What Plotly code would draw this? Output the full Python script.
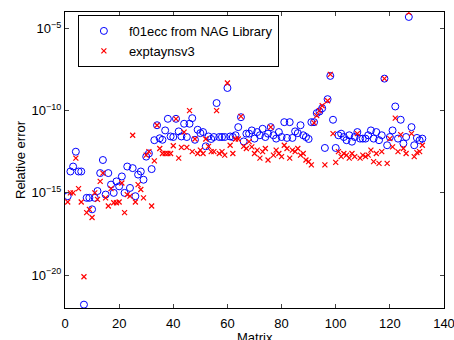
import plotly.graph_objects as go

matrix_index = list(range(1, 133))

nag_error = [
    6.3e-16, 2.0e-14, 4.0e-14, 3.2e-13, 2.0e-14, 2.0e-14, 1.6e-22, 5.0e-16, 5.0e-16, 1.0e-16,
    5.0e-16, 1.3e-15, 1.6e-14, 1.0e-13, 7.9e-16, 1.6e-14, 3.2e-15, 1.0e-15, 5.0e-15, 2.5e-15,
    1.0e-14, 1.0e-15, 4.0e-14, 2.0e-15, 3.2e-14, 6.3e-16, 1.3e-14, 2.0e-14, 6.3e-15, 1.6e-13,
    2.5e-13, 2.8e-14, 1.6e-12, 1.3e-11, 2.1e-12, 1.7e-12, 6.3e-12, 3.2e-11, 2.7e-12, 2.5e-12,
    3.2e-11, 5.5e-12, 2.7e-12, 1.6e-11, 2.5e-12, 1.6e-11, 3.5e-11, 1.7e-12, 6.9e-12, 4.3e-12,
    5.0e-12, 6.8e-13, 2.7e-12, 1.9e-12, 2.5e-12, 2.9e-10, 2.5e-12, 2.5e-12, 2.5e-12, 2.4e-9,
    2.7e-12, 2.5e-12, 3.2e-12, 1.0e-11, 4.0e-11, 1.35e-12, 4.0e-12, 4.0e-12, 6.3e-12, 2.0e-12,
    5.0e-12, 3.2e-12, 7.9e-12, 2.5e-12, 4.0e-12, 1.0e-11, 3.2e-12, 2.0e-12, 5.0e-12, 2.5e-12,
    2.0e-11, 2.2e-12, 2.0e-11, 2.2e-12, 5.5e-12, 4.3e-12, 1.3e-11, 3.2e-12, 2.5e-12, 1.9e-12,
    2.0e-11, 2.0e-11, 7.1e-11, 8.9e-11, 1.4e-10, 5.4e-13, 5.0e-10, 1.3e-8, 2.8e-11, 5.4e-13,
    3.2e-12, 4.0e-12, 2.5e-12, 1.6e-12, 3.2e-12, 1.3e-12, 2.5e-12, 5.0e-12, 2.0e-12, 2.0e-12,
    2.0e-12, 3.2e-12, 6.3e-12, 2.0e-12, 5.0e-12, 1.6e-12, 3.2e-12, 8.9e-9, 7.9e-13, 2.5e-12,
    6.3e-12, 1.8e-10, 2.0e-12, 2.8e-11, 1.0e-12, 2.5e-12, 5.0e-5, 1.0e-11, 7.9e-13, 2.2e-12,
    1.6e-12, 2.0e-12,
]

exptaynsv3_error = [
    2.8e-16, 1.0e-15, 1.0e-15, 1.3e-13, 1.8e-15, 2.8e-16, 7.9e-21, 6.3e-17, 1.0e-16, 3.2e-17,
    1.0e-15, 4.0e-16, 5.0e-15, 1.6e-14, 5.0e-16, 1.6e-16, 1.8e-15, 2.5e-16, 2.5e-16, 2.8e-16,
    4.0e-15, 6.3e-17, 7.9e-16, 6.3e-16, 3.2e-12, 2.8e-16, 3.2e-15, 1.6e-15, 5.0e-16, 2.0e-13,
    3.2e-13, 1.6e-16, 8.9e-14, 1.3e-11, 5.0e-13, 2.5e-13, 2.5e-13, 2.5e-13, 2.5e-13, 7.4e-13,
    3.2e-11, 1.3e-13, 5.8e-13, 5.0e-12, 5.8e-13, 1.0e-10, 3.2e-13, 1.9e-12, 2.5e-13, 4.0e-13,
    2.5e-13, 1.9e-12, 6.8e-13, 3.2e-13, 3.2e-13, 1.0e-10, 2.5e-13, 3.2e-13, 2.0e-13, 4.8e-9,
    7.9e-13, 2.5e-13, 1.9e-12, 1.9e-12, 4.5e-11, 6.8e-13, 5.0e-13, 1.3e-12, 6.3e-13, 2.5e-13,
    4.0e-13, 1.3e-13, 3.2e-13, 5.0e-13, 1.0e-13, 1.0e-11, 2.0e-13, 4.0e-13, 2.5e-13, 1.6e-13,
    7.9e-13, 5.0e-13, 1.3e-13, 4.0e-13, 3.2e-13, 5.0e-13, 2.0e-13, 2.5e-13, 1.0e-13, 7.9e-14,
    5.0e-14, 1.8e-11, 5.0e-11, 1.0e-10, 2.0e-10, 5.0e-14, 4.0e-10, 1.6e-8, 4.0e-12, 7.1e-14,
    3.2e-13, 1.6e-13, 2.5e-13, 2.0e-13, 1.3e-13, 2.5e-13, 1.6e-13, 4.0e-12, 1.3e-13, 2.0e-13,
    1.6e-13, 2.0e-13, 4.0e-13, 7.9e-14, 2.5e-13, 6.3e-14, 3.2e-13, 8.9e-9, 6.3e-14, 2.0e-12,
    6.3e-13, 3.5e-11, 3.2e-13, 3.5e-12, 5.0e-13, 2.5e-13, 9.5e-5, 4.0e-12, 1.6e-13, 2.8e-13,
    3.2e-13, 7.9e-13,
]

x_ticks = [0, 20, 40, 60, 80, 100, 120, 140]
y_ticks = [1e-20, 1e-15, 1e-10, 1e-5]
y_tick_text = ["10<sup>−20</sup>", "10<sup>−15</sup>", "10<sup>−10</sup>", "10<sup>−5</sup>"]

font_family = "Liberation Sans, Arial, Helvetica, sans-serif"

fig = go.Figure()
fig.add_trace(go.Scatter(
    x=matrix_index, y=nag_error, mode="markers", name="f01ecc from NAG Library",
    marker=dict(symbol="circle-open", size=7, color="#0000ff", line=dict(width=1, color="#0000ff")),
))
fig.add_trace(go.Scatter(
    x=matrix_index, y=exptaynsv3_error, mode="markers", name="exptaynsv3",
    marker=dict(symbol="x-thin-open", size=5, color="#ff0000", line=dict(width=1.2, color="#ff0000")),
))

fig.update_layout(
    width=454, height=340,
    margin=dict(l=65, r=10, t=12, b=32, autoexpand=False),
    paper_bgcolor="white", plot_bgcolor="white",
    font=dict(family=font_family, size=12, color="black"),
    showlegend=True,
    legend=dict(
        x=0.034, y=0.99, xanchor="left", yanchor="top",
        bgcolor="white", bordercolor="black", borderwidth=1,
        font=dict(size=13, family=font_family, color="black"),
        tracegroupgap=0, itemsizing="trace", itemwidth=40,
    ),
    annotations=[dict(
        text="Matrix", xref="paper", yref="paper", x=0.5, y=-0.066,
        xanchor="center", yanchor="top", showarrow=False,
        font=dict(size=13, family=font_family, color="black"),
    )],
)
fig.update_xaxes(
    range=[0, 140], tickvals=x_ticks, ticks="inside", ticklen=4, tickwidth=1,
    showline=True, linecolor="black", linewidth=1, mirror="allticks",
    showgrid=False, zeroline=False, tickfont=dict(size=13), automargin=False,
    ticklabelstandoff=3, ticklabeloverflow="allow",
)
fig.update_yaxes(
    type="log", range=[-22, -4], tickvals=y_ticks, ticktext=y_tick_text,
    ticks="inside", ticklen=4, tickwidth=1,
    showline=True, linecolor="black", linewidth=1, mirror="allticks",
    showgrid=False, zeroline=False, tickfont=dict(size=13), automargin=False,
    ticklabeloverflow="allow",
    title=dict(text="Relative error", font=dict(size=13), standoff=2),
)

fig.write_html("out.html", config={"displayModeBar": False},
               post_script="document.body.style.margin='0';")
